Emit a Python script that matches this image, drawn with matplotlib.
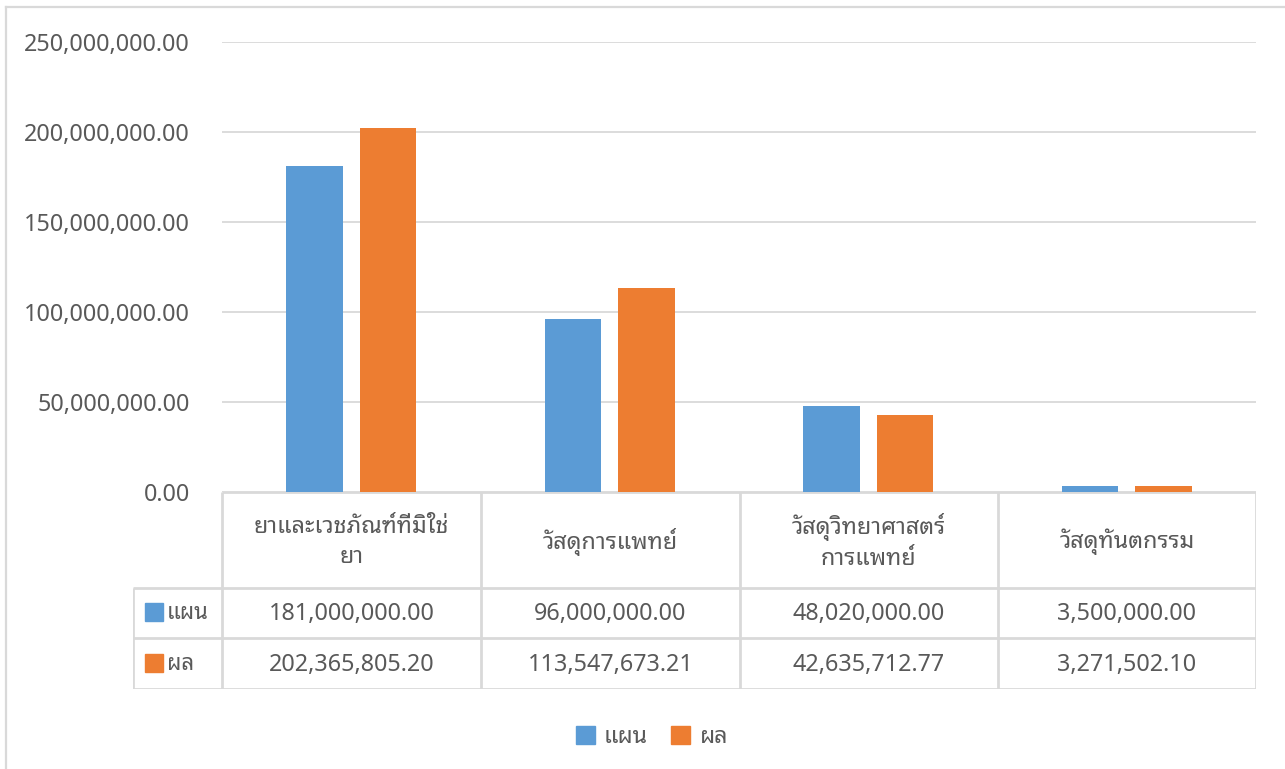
import matplotlib
matplotlib.use("Agg")
import matplotlib.pyplot as plt
from matplotlib.patches import Rectangle
from matplotlib.lines import Line2D

categories = ["ยาและเวชภัณฑ์ที่มิใช่\nยา", "วัสดุการแพทย์", "วัสดุวิทยาศาสตร์\nการแพทย์", "วัสดุทันตกรรม"]
series_names = ["แผน", "ผล"]
plan = [181000000.00, 96000000.00, 48020000.00, 3500000.00]
actual = [202365805.20, 113547673.21, 42635712.77, 3271502.10]
yticks = [0, 50000000, 100000000, 150000000, 200000000, 250000000]

plt.rcParams['font.family'] = ['Noto Sans Thai Looped', 'DejaVu Sans']

W, H = 1285, 769
fig = plt.figure(figsize=(W / 100, H / 100), dpi=100)
grey = "#595959"
line = "#d9d9d9"
blue = "#5b9bd5"
orange = "#ed7d31"
fs = 16.8

def fx(px):
    return px / W

def fy(py):
    return 1 - py / H

# chart frame (only top and left edges are inside the picture)
fig.add_artist(Line2D([fx(6), fx(1284)], [fy(7), fy(7)], color=line, lw=1.6))
fig.add_artist(Line2D([fx(6), fx(6)], [fy(7), 0], color=line, lw=1.6))

ax = fig.add_axes([fx(222), fy(492), fx(1256 - 222), fy(42) - fy(492)])
x = range(len(categories))
w = 0.22
ax.bar([i - 0.142 for i in x], plan, w, color=blue, zorder=3)
ax.bar([i + 0.142 for i in x], actual, w, color=orange, zorder=3)
ax.set_xlim(-0.5, len(categories) - 0.5)
ax.set_ylim(0, 250000000)
ax.set_yticks(yticks)
ax.set_yticklabels(["{:,.2f}".format(v) for v in yticks], fontsize=fs, color=grey)
ax.tick_params(axis='y', length=0, pad=23)
ax.set_xticks([])
ax.grid(axis='y', color=line, lw=1.3, zorder=0)
for s in ax.spines.values():
    s.set_visible(False)

# data table under the bars
tx = fig.add_axes([fx(133), fy(689), fx(1256 - 133), fy(492) - fy(689)])
tx.set_xlim(133, 1256)
tx.set_ylim(689, 492)
tx.axis('off')
cols = [222, 481, 740, 998, 1256]
lk = dict(color=line, lw=2, solid_capstyle='butt')
tx.plot([222, 1256], [492, 492], **lk)
tx.plot([133, 1256], [588, 588], **lk)
tx.plot([133, 1256], [638, 638], **lk)
tx.plot([133, 1256], [689, 689], **lk)
tx.plot([133, 133], [588, 689], **lk)
for c in cols:
    tx.plot([c, c], [492, 689], **lk)
for i, cat in enumerate(categories):
    cx = (cols[i] + cols[i + 1]) / 2
    tx.text(cx, 542, cat, ha='center', va='center', fontsize=fs, color=grey, linespacing=1.35)
    tx.text(cx, 614, "{:,.2f}".format(plan[i]), ha='center', va='center', fontsize=fs, color=grey)
    tx.text(cx, 665, "{:,.2f}".format(actual[i]), ha='center', va='center', fontsize=fs, color=grey)
for r, name, col in [(614, series_names[0], blue), (665, series_names[1], orange)]:
    tx.add_patch(Rectangle((145, r - 11), 18, 18, color=col))
    tx.text(167, r, name, ha='left', va='center', fontsize=fs - 0.8, color=grey)

fig.legend(handles=[Rectangle((0, 0), 1, 1, color=blue), Rectangle((0, 0), 1, 1, color=orange)],
           labels=series_names, loc='center', bbox_to_anchor=(fx(652), fy(737)), ncol=2,
           frameon=False, fontsize=fs, labelcolor=grey, handlelength=0.8, handleheight=0.8,
           handletextpad=0.4, columnspacing=1.0)

fig.savefig("out.png", dpi=100)
